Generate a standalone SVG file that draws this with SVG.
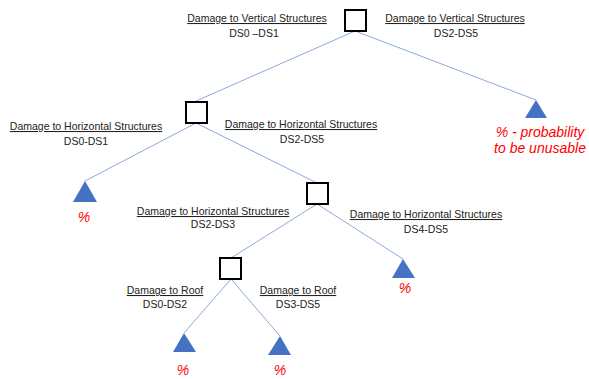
<svg xmlns="http://www.w3.org/2000/svg" width="589" height="379" viewBox="0 0 589 379">
<style>
.box{fill:#fff;stroke:#000;stroke-width:2}
.tri{fill:#4472C4}
.ln{stroke:#8EA9DB;stroke-width:1;fill:none}
.t{font-family:"Liberation Sans",Arial,sans-serif;font-size:10.5px;fill:#222;text-anchor:middle}
.u{text-decoration:underline}
.r{font-family:"Liberation Sans",Arial,sans-serif;font-size:14px;font-style:italic;fill:#FF0000;text-anchor:middle}
</style>
<rect width="589" height="379" fill="#fff"/>
<g id="connectors">
<line class="ln" x1="355" y1="31" x2="196" y2="101"/>
<line class="ln" x1="355" y1="31" x2="536" y2="100"/>
<line class="ln" x1="196" y1="123" x2="85" y2="181"/>
<line class="ln" x1="196" y1="123" x2="317" y2="183"/>
<line class="ln" x1="317" y1="204" x2="231" y2="258"/>
<line class="ln" x1="317" y1="204" x2="403" y2="259"/>
<line class="ln" x1="231" y1="279" x2="184" y2="333"/>
<line class="ln" x1="231" y1="279" x2="280" y2="336"/>
</g>
<g id="node-vertical">
<rect class="box" x="345" y="10" width="21" height="21"/>
<text class="t u" x="257" y="22">Damage to Vertical Structures</text>
<text class="t" x="254" y="37">DS0 –DS1</text>
<text class="t u" x="455" y="22">Damage to Vertical Structures</text>
<text class="t" x="456" y="37">DS2-DS5</text>
</g>
<g id="node-horizontal1">
<rect class="box" x="186" y="102" width="21" height="21"/>
<text class="t u" x="86" y="130">Damage to Horizontal Structures</text>
<text class="t" x="86" y="145">DS0-DS1</text>
<text class="t u" x="301" y="128">Damage to Horizontal Structures</text>
<text class="t" x="302" y="143">DS2-DS5</text>
</g>
<g id="node-horizontal2">
<rect class="box" x="307" y="183" width="21" height="21"/>
<text class="t u" x="213" y="215">Damage to Horizontal Structures</text>
<text class="t" x="213" y="228">DS2-DS3</text>
<text class="t u" x="426" y="218">Damage to Horizontal Structures</text>
<text class="t" x="426" y="233">DS4-DS5</text>
</g>
<g id="node-roof">
<rect class="box" x="220" y="258" width="21" height="21"/>
<text class="t u" x="165" y="294">Damage to Roof</text>
<text class="t" x="165" y="308">DS0-DS2</text>
<text class="t u" x="298" y="294">Damage to Roof</text>
<text class="t" x="298" y="308">DS3-DS5</text>
</g>
<g id="leaf-unusable">
<polygon class="tri" points="536,100 547,118 525,118"/>
<text class="r" x="540" y="137">% - probability</text>
<text class="r" x="540" y="153">to be unusable</text>
</g>
<g id="leaf-1">
<polygon class="tri" points="85,181 97,202 73,202"/>
<text class="r" x="84" y="222">%</text>
</g>
<g id="leaf-2">
<polygon class="tri" points="403,259 415,278 392,278"/>
<text class="r" x="405" y="293">%</text>
</g>
<g id="leaf-3">
<polygon class="tri" points="184,333 196,352 173,352"/>
<text class="r" x="183" y="375">%</text>
</g>
<g id="leaf-4">
<polygon class="tri" points="280,336 291,355 268,355"/>
<text class="r" x="280" y="375">%</text>
</g>
</svg>
